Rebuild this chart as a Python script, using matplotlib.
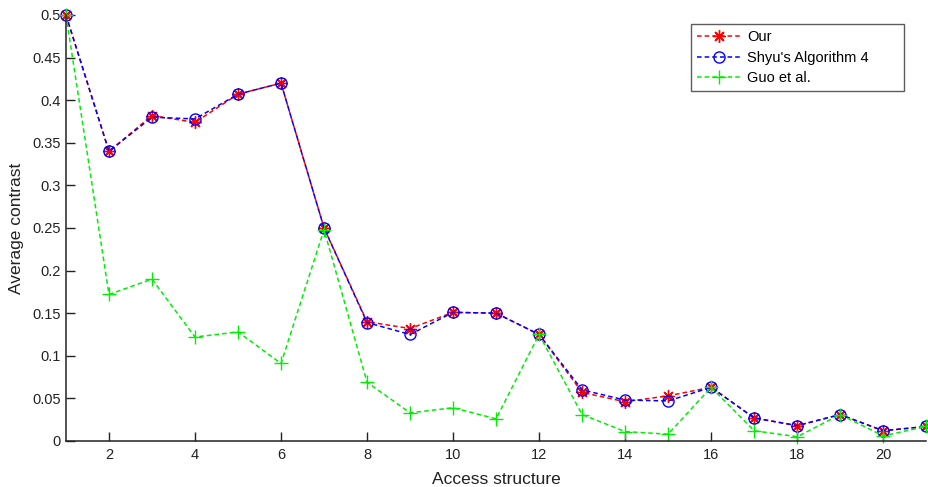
import matplotlib
matplotlib.use("Agg")
import matplotlib.pyplot as plt

plt.rcParams["font.family"] = ["Liberation Sans", "DejaVu Sans"]

access = list(range(1, 22))
our = [0.5, 0.34, 0.382, 0.374, 0.407, 0.42, 0.25, 0.14, 0.132, 0.151, 0.15,
       0.125, 0.057, 0.046, 0.053, 0.063, 0.027, 0.018, 0.031, 0.012, 0.017]
shyu = [0.5, 0.34, 0.38, 0.378, 0.407, 0.42, 0.25, 0.139, 0.125, 0.151, 0.15,
        0.125, 0.06, 0.048, 0.047, 0.063, 0.027, 0.018, 0.031, 0.012, 0.017]
guo = [0.5, 0.172, 0.19, 0.122, 0.128, 0.091, 0.248, 0.069, 0.033, 0.039, 0.026,
       0.125, 0.031, 0.011, 0.008, 0.063, 0.012, 0.005, 0.031, 0.006, 0.017]

fig = plt.figure(figsize=(9.29, 4.87), dpi=100)
ax = fig.add_axes([0.071, 0.0945, 0.926, 0.8747])

dash = (0, (3, 2))
ax.plot(access, our, color="red", linestyle=dash, linewidth=1.1,
        marker=(8, 2, 0), markersize=9, markeredgewidth=1, clip_on=False, label="Our")
ax.plot(access, shyu, color="blue", linestyle=dash, linewidth=1.1,
        marker="o", markersize=8, markerfacecolor="none", markeredgewidth=1,
        clip_on=False, label="Shyu's Algorithm 4")
ax.plot(access, guo, color="#00ee00", linestyle=dash, linewidth=1.1,
        marker="+", markersize=10, markeredgewidth=1, clip_on=False, label="Guo et al.")

ax.set_xlim(1, 21)
ax.set_ylim(0, 0.5)
ax.set_xticks(range(2, 21, 2))
ax.set_yticks([0, 0.05, 0.1, 0.15, 0.2, 0.25, 0.3, 0.35, 0.4, 0.45, 0.5])
ax.set_yticklabels(["0", "0.05", "0.1", "0.15", "0.2", "0.25", "0.3", "0.35", "0.4", "0.45", "0.5"])
ax.tick_params(direction="in", labelsize=10.5, colors="#222222", length=6.5, width=1)
ax.tick_params(axis="x", pad=5)
for s in ("left", "bottom"):
    ax.spines[s].set_linewidth(1.1)
    ax.spines[s].set_color("#222222")
ax.spines["top"].set_visible(False)
ax.spines["right"].set_visible(False)
ax.set_xlabel("Access structure", fontsize=12.5, labelpad=7, color="#222222")
ax.set_ylabel("Average contrast", fontsize=12.5, labelpad=6, color="#222222")

leg = ax.legend(loc="upper left", bbox_to_anchor=(0.7267, 0.0, 0.2477, 0.979),
                mode="expand", fontsize=10.5, frameon=True, fancybox=False,
                edgecolor="#333333", handlelength=3.0, handletextpad=0.4,
                borderpad=0.42, labelspacing=0.45, borderaxespad=0)
leg.get_frame().set_linewidth(1)

fig.savefig("out.png", dpi=100)
